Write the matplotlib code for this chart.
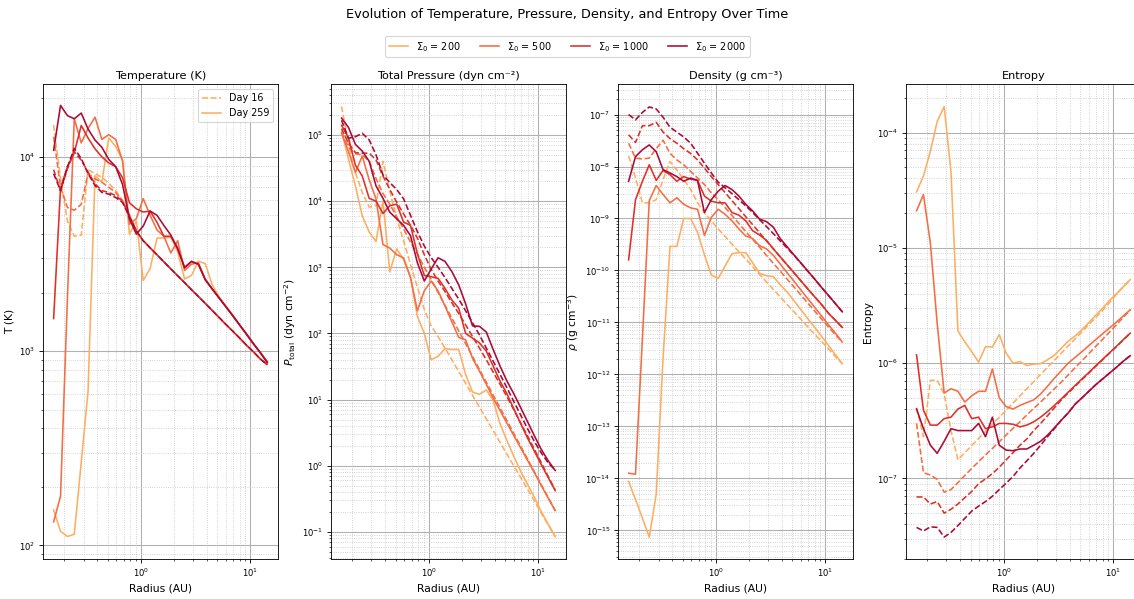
import matplotlib
matplotlib.use("Agg")
import matplotlib.pyplot as plt
from matplotlib.lines import Line2D

# radial grid (AU)
radius = [0.160, 0.185, 0.214, 0.247, 0.286, 0.330, 0.382, 0.441, 0.510, 0.590, 0.682, 0.788,
          0.911, 1.053, 1.217, 1.407, 1.626, 1.880, 2.173, 2.512, 2.904, 3.357, 3.880, 4.485,
          5.185, 5.994, 6.929, 8.009, 9.258, 10.70, 12.37, 14.30]

sigma_values = [200, 500, 1000, 2000]
sigma_colors = ["#fdae61", "#f46d43", "#dc3128", "#ab0a36"]

# temperature (K)
temp_d16_200 = [14600, 7700, 4670, 3900, 3950, 8590, 8190, 7860, 7310, 6700, 5940, 5060, 4140, 3700, 3400, 3130,
                2880, 2650, 2440, 2250, 2070, 1910, 1760, 1620, 1490, 1370, 1265, 1165, 1070, 990, 910, 850]
temp_d16_500 = [12700, 6970, 5480, 5310, 5700, 8190, 7700, 7400, 6970, 6560, 5940, 5000, 4150, 3700, 3400, 3130,
                2880, 2650, 2440, 2250, 2070, 1910, 1760, 1620, 1490, 1370, 1265, 1165, 1070, 990, 910, 850]
temp_d16_1000 = [8590, 6700, 8680, 10600, 9610, 8350, 7260, 6700, 6560, 6310, 5900, 4950, 4150, 3700, 3400, 3130,
                 2880, 2650, 2440, 2250, 2070, 1910, 1760, 1620, 1490, 1370, 1265, 1165, 1070, 990, 910, 850]
temp_d16_2000 = [8190, 6700, 8870, 11060, 9800, 8190, 7110, 6560, 6430, 6170, 5820, 4900, 4150, 3700, 3400, 3130,
                 2880, 2650, 2440, 2250, 2070, 1910, 1760, 1620, 1490, 1370, 1265, 1165, 1070, 990, 910, 850]
temp_d259_200 = [152, 118, 111, 114, 267, 621, 8000, 7400, 12500, 11300, 9600, 4000, 4670, 2310, 2660, 3820,
                 3820, 3850, 3240, 2350, 2450, 2900, 2820, 2200, 1900, 1700, 1520, 1360, 1220, 1090, 980, 880]
temp_d259_500 = [132, 179, 1900, 15700, 11800, 14000, 16000, 12300, 13000, 12300, 9500, 4500, 4800, 6100, 5000, 4200,
                 3900, 3200, 3700, 2600, 2800, 2850, 2350, 2090, 1880, 1690, 1520, 1360, 1220, 1090, 980, 880]
temp_d259_1000 = [1470, 6900, 8900, 10500, 14500, 12500, 11000, 10000, 9300, 8900, 7800, 5800, 5400, 5200, 5250, 4600,
                  3900, 3900, 3400, 2700, 2900, 2800, 2330, 2090, 1880, 1690, 1520, 1360, 1220, 1090, 980, 880]
temp_d259_2000 = [10800, 18400, 16300, 15700, 16800, 13900, 12200, 11200, 9700, 8900, 7200, 4800, 4000, 4400, 5260, 5000,
                  4430, 3960, 3350, 2680, 2890, 2800, 2330, 2090, 1880, 1690, 1520, 1360, 1220, 1090, 980, 870]

# total pressure (dyn cm^-2)
pres_d16_200 = [2.7e5, 7.5e4, 2.7e4, 1.35e4, 8100, 8500, 4.0e4, 1.4e4, 5500, 2500, 1100, 500, 230, 130, 90, 60,
                40, 26.5, 17.6, 11.6, 7.7, 5.1, 3.4, 2.25, 1.49, 0.99, 0.66, 0.44, 0.29, 0.19, 0.127, 0.085]
pres_d16_500 = [1.1e5, 6.5e4, 5.2e4, 5.0e4, 4.0e4, 2.2e4, 1.3e4, 9000, 5800, 3800, 2400, 1600, 1000, 650, 416, 266,
                170, 109, 70, 45, 28.5, 18.3, 11.7, 7.5, 4.8, 3.06, 1.96, 1.25, 0.80, 0.51, 0.33, 0.21]
pres_d16_1000 = [1.25e5, 7.5e4, 5.4e4, 5.3e4, 5.3e4, 4.2e4, 2.4e4, 1.5e4, 9600, 6400, 4300, 2760, 1550, 930, 620, 430,
                 290, 200, 135, 90, 60, 40, 26, 17, 11, 7.0, 4.4, 2.8, 1.75, 1.1, 0.68, 0.43]
pres_d16_2000 = [1.67e5, 8.9e4, 9.4e4, 1.06e5, 8.4e4, 5.0e4, 2.5e4, 1.9e4, 1.5e4, 1.08e4, 6100, 3450, 2100, 1400, 1000, 700,
                 480, 330, 220, 145, 95, 60, 38, 24, 15, 9.3, 5.8, 3.6, 2.3, 1.55, 1.1, 0.86]
pres_d259_200 = [1.15e5, 4.3e4, 1.7e4, 6000, 3400, 2450, 1.0e4, 850, 1900, 1300, 700, 180, 100, 40, 45, 59,
                 57, 57, 24, 13, 12, 14, 9.7, 4.3, 2.4, 1.38, 0.82, 0.52, 0.33, 0.2, 0.13, 0.085]
pres_d259_500 = [1.06e5, 5.6e4, 2.7e4, 4.8e4, 2.1e4, 1.08e4, 2200, 1950, 1550, 1380, 700, 220, 440, 620, 440, 260,
                 150, 87, 80, 42, 27, 17, 10.5, 6.8, 4.4, 2.85, 1.85, 1.2, 0.78, 0.5, 0.32, 0.21]
pres_d259_1000 = [1.4e5, 9.0e4, 3.5e4, 2.4e4, 1.1e4, 1.0e4, 6500, 8500, 9000, 4800, 4300, 1600, 750, 720, 680, 480,
                  320, 240, 100, 85, 72, 54, 32, 19, 12.2, 7.2, 4.3, 2.6, 1.64, 1.03, 0.66, 0.42]
pres_d259_2000 = [1.8e5, 1.3e5, 7.2e4, 5.7e4, 4.0e4, 1.7e4, 1.1e4, 6800, 5400, 4300, 3000, 1170, 620, 940, 1390, 1230,
                  860, 540, 280, 130, 128, 105, 57, 32, 19, 12.2, 7.5, 4.6, 2.8, 1.75, 1.18, 0.85]

# density (g cm^-3)
dens_d16_200 = [1.6e-8, 6e-9, 2.0e-9, 2.0e-9, 2.3e-9, 5.6e-9, 1.25e-8, 8.6e-9, 5.6e-9, 3.6e-9, 2.0e-9, 1.3e-9,
                9e-10, 6.3e-10, 4.5e-10, 3.2e-10, 2.3e-10, 1.65e-10, 1.18e-10, 8.4e-11, 6e-11, 4.3e-11, 3.1e-11,
                2.2e-11, 1.6e-11, 1.15e-11, 8.2e-12, 5.9e-12, 4.3e-12, 3.1e-12, 2.2e-12, 1.6e-12]
dens_d16_500 = [2.8e-8, 1.45e-8, 1.4e-8, 1.45e-8, 2.2e-8, 3.2e-8, 1.8e-8, 1.34e-8, 1.08e-8, 8.0e-9, 6.0e-9, 4.5e-9,
                3.1e-9, 2.3e-9, 1.62e-9, 1.14e-9, 8e-10, 5.6e-10, 3.95e-10, 2.8e-10, 1.95e-10, 1.37e-10, 9.7e-11,
                6.8e-11, 4.8e-11, 3.35e-11, 2.35e-11, 1.65e-11, 1.16e-11, 8.2e-12, 5.8e-12, 4.2e-12]
dens_d16_1000 = [4.07e-8, 2.9e-8, 6.1e-8, 6.1e-8, 7.1e-8, 4.6e-8, 3.45e-8, 2.8e-8, 2.2e-8, 1.78e-8, 1.34e-8, 9.3e-9,
                 6.4e-9, 4.5e-9, 3.15e-9, 2.2e-9, 1.55e-9, 1.08e-9, 7.6e-10, 5.3e-10, 3.7e-10, 2.6e-10, 1.83e-10,
                 1.28e-10, 9e-11, 6.3e-11, 4.4e-11, 3.1e-11, 2.2e-11, 1.5e-11, 1.1e-11, 8e-12]
dens_d16_2000 = [1.0e-7, 7.9e-8, 1.1e-7, 1.4e-7, 1.28e-7, 8.9e-8, 5.7e-8, 4.6e-8, 3.7e-8, 2.8e-8, 1.8e-8, 1.16e-8,
                 7.5e-9, 5.0e-9, 3.9e-9, 3.0e-9, 2.3e-9, 1.75e-9, 1.3e-9, 9.5e-10, 7.0e-10, 5.1e-10, 3.7e-10,
                 2.7e-10, 1.95e-10, 1.38e-10, 9.7e-11, 6.8e-11, 4.7e-11, 3.3e-11, 2.3e-11, 1.6e-11]
dens_d259_200 = [8.7e-15, 3.9e-15, 1.7e-15, 7.4e-16, 5e-15, 2e-12, 2.9e-10, 2.9e-10, 1e-9, 1e-9, 5.4e-10, 2.0e-10,
                 8.2e-11, 7.0e-11, 1.22e-10, 2.1e-10, 2.2e-10, 2.2e-10, 1.4e-10, 8.8e-11, 7.9e-11, 7.6e-11, 5.3e-11,
                 3.85e-11, 2.6e-11, 1.75e-11, 1.18e-11, 8e-12, 5.4e-12, 3.6e-12, 2.4e-12, 1.6e-12]
dens_d259_500 = [1.25e-14, 1.2e-14, 5e-12, 2.2e-9, 4.3e-9, 2.9e-9, 2.0e-9, 2.5e-9, 1.87e-9, 1.6e-9, 1.5e-9, 4.7e-10,
                 1.05e-9, 1.5e-9, 1.2e-9, 9e-10, 6.3e-10, 4.6e-10, 4.1e-10, 3.0e-10, 2.6e-10, 1.95e-10, 1.33e-10,
                 9e-11, 6.2e-11, 4.2e-11, 2.85e-11, 1.95e-11, 1.33e-11, 9e-12, 6.2e-12, 4.2e-12]
dens_d259_1000 = [1.6e-10, 2.3e-9, 5.2e-9, 1.08e-8, 5.4e-9, 8.4e-9, 6.95e-9, 5.2e-9, 6.4e-9, 5.7e-9, 5.4e-9, 2.7e-9,
                  2.15e-9, 2.0e-9, 2.0e-9, 1.3e-9, 1.16e-9, 9.0e-10, 5.8e-10, 4.8e-10, 3.8e-10, 2.6e-10, 1.83e-10,
                  1.28e-10, 9e-11, 6.3e-11, 4.4e-11, 3.1e-11, 2.2e-11, 1.5e-11, 1.1e-11, 8e-12]
dens_d259_2000 = [5.2e-9, 1.55e-8, 2.1e-8, 2.6e-8, 1.93e-8, 8.7e-9, 7.5e-9, 6.4e-9, 5.2e-9, 6.0e-9, 5.4e-9, 1.3e-9,
                  2.3e-9, 3.35e-9, 4.3e-9, 3.6e-9, 2.7e-9, 1.87e-9, 1.4e-9, 9.7e-10, 8.7e-10, 6.8e-10, 4.1e-10,
                  2.85e-10, 1.99e-10, 1.39e-10, 9.7e-11, 6.8e-11, 4.7e-11, 3.3e-11, 2.3e-11, 1.6e-11]

# entropy
ent_d16_200 = [4.1e-7, 2.3e-7, 7.1e-7, 7.1e-7, 5.4e-7, 2.6e-7, 1.45e-7, 1.67e-7, 1.93e-7, 2.22e-7, 2.56e-7, 2.95e-7,
               3.4e-7, 3.9e-7, 4.5e-7, 5.2e-7, 6.0e-7, 6.9e-7, 8.0e-7, 9.2e-7, 1.06e-6, 1.22e-6, 1.41e-6, 1.62e-6,
               1.87e-6, 2.16e-6, 2.49e-6, 2.87e-6, 3.35e-6, 3.95e-6, 4.6e-6, 5.3e-6]
ent_d16_500 = [3.0e-7, 1.12e-7, 1.07e-7, 9.8e-8, 7.6e-8, 8.0e-8, 9.2e-8, 1.06e-7, 1.22e-7, 1.4e-7, 1.6e-7, 1.82e-7,
               2.08e-7, 2.38e-7, 2.72e-7, 3.1e-7, 3.55e-7, 4.05e-7, 4.6e-7, 5.25e-7, 6.0e-7, 6.85e-7, 7.9e-7, 9.1e-7,
               1.05e-6, 1.21e-6, 1.4e-6, 1.61e-6, 1.86e-6, 2.15e-6, 2.5e-6, 2.9e-6]
ent_d16_1000 = [6.9e-8, 6.9e-8, 6.0e-8, 6.3e-8, 5.0e-8, 5.4e-8, 6.0e-8, 6.8e-8, 7.7e-8, 9.0e-8, 9.9e-8, 1.1e-7,
                1.25e-7, 1.45e-7, 1.67e-7, 1.94e-7, 2.2e-7, 2.6e-7, 3.0e-7, 3.5e-7, 4.1e-7, 4.8e-7, 5.5e-7, 6.3e-7,
                7.2e-7, 8.2e-7, 9.4e-7, 1.07e-6, 1.22e-6, 1.39e-6, 1.59e-6, 1.82e-6]
ent_d16_2000 = [3.76e-8, 3.5e-8, 3.8e-8, 3.76e-8, 3.1e-8, 3.4e-8, 3.9e-8, 4.5e-8, 5.2e-8, 5.75e-8, 6.3e-8, 7.0e-8,
                8.0e-8, 9.1e-8, 1.04e-7, 1.23e-7, 1.42e-7, 1.65e-7, 1.94e-7, 2.3e-7, 2.7e-7, 3.2e-7, 3.7e-7, 4.4e-7,
                5.0e-7, 5.7e-7, 6.5e-7, 7.3e-7, 8.2e-7, 9.2e-7, 1.04e-6, 1.16e-6]
ent_d259_200 = [3.06e-5, 4.2e-5, 6.9e-5, 1.25e-4, 1.68e-4, 4.6e-5, 1.9e-6, 1.53e-6, 1.26e-6, 1.02e-6, 1.39e-6, 1.38e-6,
                1.77e-6, 1.22e-6, 1.0e-6, 1.03e-6, 9.55e-7, 9.8e-7, 9.9e-7, 1.07e-6, 1.17e-6, 1.35e-6, 1.55e-6,
                1.72e-6, 1.95e-6, 2.25e-6, 2.6e-6, 3.0e-6, 3.5e-6, 4.0e-6, 4.6e-6, 5.3e-6]
ent_d259_500 = [2.1e-5, 2.9e-5, 1.1e-5, 2.2e-6, 5.5e-7, 6.0e-7, 5.7e-7, 4.6e-7, 5.2e-7, 5.7e-7, 5.7e-7, 8.9e-7,
                5.0e-7, 4.2e-7, 4.0e-7, 4.3e-7, 4.55e-7, 4.8e-7, 5.4e-7, 6.3e-7, 7.4e-7, 8.6e-7, 1.0e-6, 1.12e-6,
                1.26e-6, 1.42e-6, 1.6e-6, 1.8e-6, 2.02e-6, 2.27e-6, 2.57e-6, 2.9e-6]
ent_d259_1000 = [1.18e-6, 3.9e-7, 2.9e-7, 2.9e-7, 3.3e-7, 3.4e-7, 4.0e-7, 4.3e-7, 3.3e-7, 3.4e-7, 2.7e-7, 2.8e-7,
                 3.0e-7, 3.0e-7, 2.95e-7, 2.8e-7, 2.9e-7, 3.1e-7, 3.4e-7, 3.8e-7, 4.3e-7, 4.9e-7, 5.6e-7, 6.4e-7,
                 7.3e-7, 8.3e-7, 9.5e-7, 1.08e-6, 1.23e-6, 1.4e-6, 1.6e-6, 1.82e-6]
ent_d259_2000 = [4.0e-7, 2.7e-7, 1.94e-7, 1.65e-7, 2.1e-7, 2.7e-7, 2.6e-7, 2.6e-7, 2.6e-7, 3.0e-7, 2.3e-7, 3.4e-7,
                 1.94e-7, 1.76e-7, 1.74e-7, 1.8e-7, 1.8e-7, 1.94e-7, 2.1e-7, 2.37e-7, 2.75e-7, 3.2e-7, 3.7e-7,
                 4.4e-7, 5.0e-7, 5.7e-7, 6.5e-7, 7.3e-7, 8.2e-7, 9.2e-7, 1.04e-6, 1.16e-6]

panels = [
    ("Temperature (K)", "T (K)",
     [temp_d16_200, temp_d16_500, temp_d16_1000, temp_d16_2000],
     [temp_d259_200, temp_d259_500, temp_d259_1000, temp_d259_2000], (85, 2.36e4)),
    ("Total Pressure (dyn cm⁻²)", r"$P_{\rm total}$ (dyn cm$^{-2}$)",
     [pres_d16_200, pres_d16_500, pres_d16_1000, pres_d16_2000],
     [pres_d259_200, pres_d259_500, pres_d259_1000, pres_d259_2000], (0.039, 5.8e5)),
    ("Density (g cm⁻³)", r"$\rho$ (g cm$^{-3}$)",
     [dens_d16_200, dens_d16_500, dens_d16_1000, dens_d16_2000],
     [dens_d259_200, dens_d259_500, dens_d259_1000, dens_d259_2000], (2.8e-16, 3.8e-7)),
    ("Entropy", "Entropy",
     [ent_d16_200, ent_d16_500, ent_d16_1000, ent_d16_2000],
     [ent_d259_200, ent_d259_500, ent_d259_1000, ent_d259_2000], (2.0e-8, 2.62e-4)),
]

plt.rcParams["xtick.labelsize"] = 8
plt.rcParams["ytick.labelsize"] = 8

fig = plt.figure(figsize=(14.74, 7.78), dpi=77)
lefts = [0.0379, 0.2916, 0.5445, 0.7982]

for left, (title, ylabel, early, late, ylim) in zip(lefts, panels):
    ax = fig.add_axes([left, 0.0668, 0.207, 0.7922])
    for color, e, l in zip(sigma_colors, early, late):
        ax.plot(radius, e, color=color, ls="--")
        ax.plot(radius, l, color=color, ls="-")
    ax.set_xscale("log")
    ax.set_yscale("log")
    ax.set_xlim(0.128, 17.9)
    ax.set_ylim(*ylim)
    ax.grid(True, which="major", color="#b0b0b0", lw=1.0)
    ax.grid(True, which="minor", color="#c8c8c8", ls=":", lw=0.8)
    ax.set_title(title, fontsize=10.5, pad=5)
    ax.set_xlabel("Radius (AU)")
    ax.set_ylabel(ylabel)
    if title.startswith("Temperature"):
        day_handles = [Line2D([], [], color=sigma_colors[0], ls="--", label="Day 16"),
                       Line2D([], [], color=sigma_colors[0], ls="-", label="Day 259")]
        ax.legend(handles=day_handles, loc="upper right", fontsize=9)

sigma_handles = [Line2D([], [], color=c, label=rf"$\Sigma_0$ = {s}")
                 for c, s in zip(sigma_colors, sigma_values)]
fig.legend(handles=sigma_handles, loc="upper center", bbox_to_anchor=(0.5, 0.948), ncol=4, fontsize=9)
fig.suptitle("Evolution of Temperature, Pressure, Density, and Entropy Over Time", y=0.986)

fig.savefig("out.png", dpi=77)
